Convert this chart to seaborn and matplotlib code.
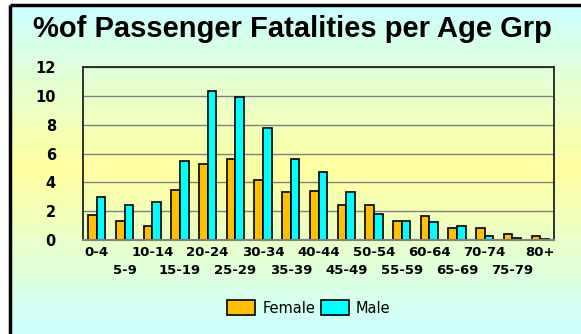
import matplotlib
matplotlib.use("Agg")
import matplotlib.pyplot as plt
import matplotlib.transforms as mtransforms
import numpy as np
import pandas as pd
import seaborn as sns
from matplotlib.patches import Patch
from matplotlib.ticker import MultipleLocator, FixedLocator

# data (% of passenger fatalities)
age_groups = ["0-4", "5-9", "10-14", "15-19", "20-24", "25-29", "30-34", "35-39",
              "40-44", "45-49", "50-54", "55-59", "60-64", "65-69", "70-74", "75-79", "80+"]
female = [1.75, 1.3, 1.0, 3.45, 5.25, 5.65, 4.15, 3.3, 3.4, 2.4, 2.4, 1.3, 1.65, 0.85, 0.85, 0.4, 0.3]
male = [3.0, 2.4, 2.65, 5.45, 10.35, 9.95, 7.8, 5.6, 4.75, 3.3, 1.8, 1.3, 1.25, 1.0, 0.25, 0.15, 0.1]

df = pd.DataFrame({
    "Age": age_groups * 2,
    "Sex": ["Female"] * len(age_groups) + ["Male"] * len(age_groups),
    "Pct": female + male,
})
colors = {"Female": "#FFC000", "Male": "#00FFFF"}

sns.set_style("white")
plt.rcParams["font.family"] = ["DejaVu Sans"]
plt.rcParams["text.color"] = "black"
plt.rcParams["xtick.color"] = "black"
plt.rcParams["ytick.color"] = "black"

W, H = 581, 334
fig = plt.figure(figsize=(W / 100, H / 100), dpi=100)
fig.patch.set_facecolor("white")

# background gradient (cyan -> yellow -> cyan) with black frame on top/left
bg = fig.add_axes([0, 0, 1, 1], zorder=0)
bg.axis("off")
cyan = np.array([204, 255, 255]) / 255
yellow = np.array([255, 255, 160]) / 255
ys = np.linspace(5, H, 200)
t = np.where(ys < 170, (ys - 5) / 165, 1 - (ys - 170) / (H - 170))
grad = cyan[None, :] * (1 - t[:, None]) + yellow[None, :] * t[:, None]
bg.imshow(grad[:, None, :], extent=(10, W, H, 5), aspect="auto", interpolation="bilinear")
bg.plot([10, 10], [H, 5], color="black", lw=2.5, solid_capstyle="butt")
bg.plot([10, W], [5, 5], color="black", lw=2.5, solid_capstyle="butt")
bg.set_xlim(0, W)
bg.set_ylim(H, 0)

ax = fig.add_axes([83 / W, 1 - 240 / H, (554 - 83) / W, (240 - 67) / H], zorder=1)
ax.set_facecolor("none")

sns.barplot(data=df, x="Age", y="Pct", hue="Sex", order=age_groups,
            hue_order=["Female", "Male"], palette=colors, width=0.62,
            edgecolor="black", linewidth=1.2, saturation=1, legend=False, ax=ax)

ax.set_xlim(-0.5, len(age_groups) - 0.5)
ax.set_ylim(0, 12)
ax.set_xlabel("")
ax.set_ylabel("")

# y axis
ax.yaxis.set_major_locator(MultipleLocator(2))
ax.yaxis.set_minor_locator(MultipleLocator(1))
ax.grid(axis="y", which="major", color="#808080", lw=1)
ax.set_axisbelow(True)
ax.tick_params(axis="y", which="major", direction="inout", length=9, width=1,
               color="#808080", labelcolor="black", pad=15, labelsize=10.5)
ax.tick_params(axis="y", which="minor", direction="inout", length=7, width=1, color="#808080")
for lab in ax.get_yticklabels():
    lab.set_fontweight("bold")

# x axis: ticks between groups, labels staggered in two rows
ax.set_xticks(range(len(age_groups)))
ax.set_xticklabels([])
ax.xaxis.set_minor_locator(FixedLocator(np.arange(-0.5, len(age_groups), 1)))
ax.tick_params(axis="x", which="major", length=0)
ax.tick_params(axis="x", which="minor", direction="inout", length=7, width=1.5, color="#808080")
trans = mtransforms.blended_transform_factory(ax.transData, ax.transAxes)
for i, a in enumerate(age_groups):
    dy = -12 if i % 2 == 0 else -30
    ax.text(i, 0, a, transform=mtransforms.offset_copy(trans, fig=fig, y=dy, units="dots"),
            ha="center", va="center", fontsize=9.5, fontweight="bold", color="black")

for side in ["top", "left", "right"]:
    ax.spines[side].set_color("#222222")
    ax.spines[side].set_linewidth(1.3)
ax.spines["bottom"].set_color("#808080")
ax.spines["bottom"].set_linewidth(1.5)

fig.text(0.503, 1 - 29 / H, "%of Passenger Fatalities per Age Grp",
         ha="center", va="center", fontsize=21, fontweight="bold", color="black",
         family=["Liberation Sans", "DejaVu Sans"])

handles = [Patch(facecolor=colors[k], edgecolor="black", lw=1.2) for k in ["Female", "Male"]]
fig.legend(handles, ["Female", "Male"], loc="center", bbox_to_anchor=(309 / W, 1 - 308 / H),
           ncol=2, frameon=False, fontsize=10.5, handlelength=1.9, handleheight=1.2,
           handletextpad=0.5, columnspacing=0.4)

fig.savefig("out.png", dpi=100)
